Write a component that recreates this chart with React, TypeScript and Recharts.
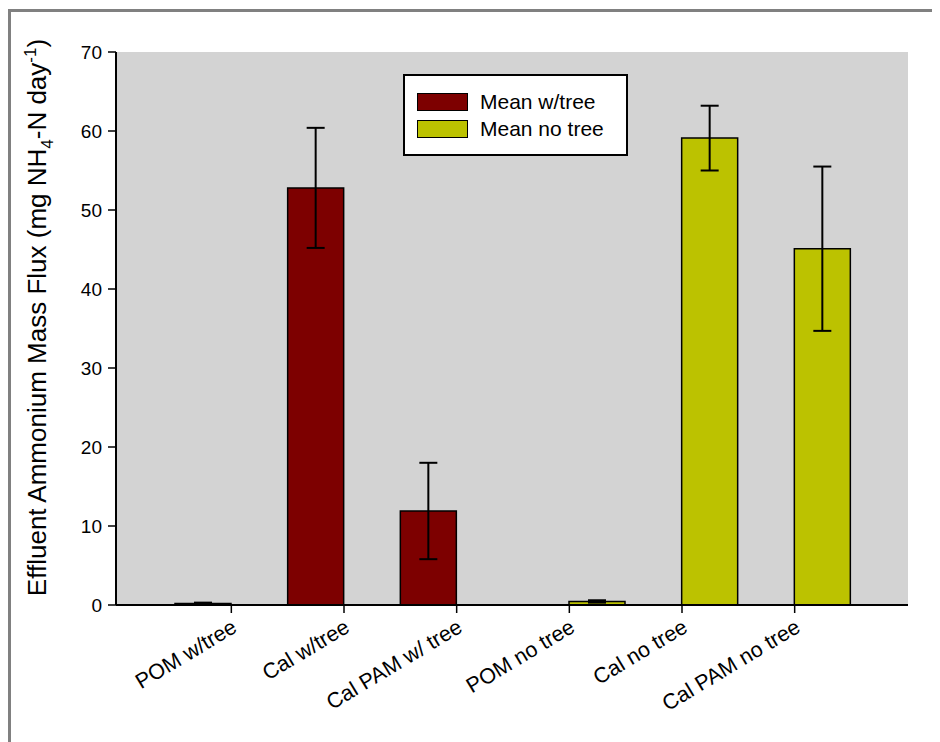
import React from 'react';
import { BarChart, Bar, XAxis, YAxis, CartesianGrid, ErrorBar } from 'recharts';

const categories = ['POM w/tree', 'Cal w/tree', 'Cal PAM w/ tree', 'POM no tree', 'Cal no tree', 'Cal PAM no tree'];
const meanWithTree: (number | null)[] = [0.2, 52.8, 11.9, null, null, null];
const errWithTree: (number | null)[] = [0.1, 7.6, 6.1, null, null, null];
const meanNoTree: (number | null)[] = [null, null, null, 0.45, 59.1, 45.1];
const errNoTree: (number | null)[] = [null, null, null, 0.15, 4.1, 10.4];
const yTicks = [0, 10, 20, 30, 40, 50, 60, 70];
const seriesNames = ['Mean w/tree', 'Mean no tree'];

const data = categories.map((name, i) => {
  const row: any = { name };
  if (meanWithTree[i] !== null) {
    row.wtree = meanWithTree[i];
    row.wtreeErr = errWithTree[i];
  }
  if (meanNoTree[i] !== null) {
    row.notree = meanNoTree[i];
    row.notreeErr = errNoTree[i];
  }
  return row;
});

const FONT = 'Arial, "Liberation Sans", Helvetica, sans-serif';
const RED = '#7d0000';
const YELLOW = '#bcc200';

const XTick = (props: any) => {
  const { x, y, payload } = props;
  return (
    <g transform={`translate(${x},${y})`}>
      <text
        x={7}
        y={16}
        textAnchor="end"
        transform="rotate(-31, 7, 16)"
        fontSize={21.5}
        fill="#000"
        fontFamily={FONT}
      >
        {payload.value}
      </text>
    </g>
  );
};

const YLabel = (props: any) => {
  const vb = props.viewBox || { x: 0, y: 0, width: 0, height: 0 };
  const cx = vb.x + 38;
  const cy = vb.y + vb.height / 2 - 11;
  return (
    <text
      x={cx}
      y={cy}
      textAnchor="middle"
      transform={`rotate(-90, ${cx}, ${cy})`}
      fontSize={26}
      fill="#000"
      fontFamily={FONT}
    >
      <tspan>Effluent Ammonium Mass Flux (mg NH</tspan>
      <tspan fontSize={17} dy={7}>4</tspan>
      <tspan dy={-7}>-N day</tspan>
      <tspan fontSize={17} dy={-10}>-1</tspan>
      <tspan dy={10}>)</tspan>
    </text>
  );
};

const LegendBox = () => {
  const colors = [RED, YELLOW];
  return (
    <div
      style={{
        position: 'absolute',
        left: 395,
        top: 66,
        width: 221,
        height: 78,
        border: '2px solid #000',
        background: '#fff',
        boxSizing: 'content-box',
        fontFamily: FONT,
        fontSize: 21,
        color: '#000',
      }}
    >
      {seriesNames.map((n, i) => (
        <div key={n} style={{ display: 'flex', alignItems: 'center', height: 27, marginTop: i === 0 ? 12 : 0, marginLeft: 12 }}>
          <div style={{ width: 49, height: 16, background: colors[i], border: '1px solid #000', marginRight: 12 }} />
          <span style={{ lineHeight: '21px' }}>{n}</span>
        </div>
      ))}
    </div>
  );
};

export default function App() {
  return (
    <div style={{ position: 'relative', width: 932, height: 734, overflow: 'hidden', background: '#fff' }}>
      <div
        style={{
          position: 'absolute',
          top: 1,
          left: 0,
          width: 1100,
          height: 1100,
          border: '3px solid #808080',
        }}
      />
      <div style={{ position: 'absolute', top: 0, left: 0 }}>
        <BarChart
          width={932}
          height={734}
          data={data}
          margin={{ top: 44, right: 32, left: 0, bottom: 57 }}
          barCategoryGap={0}
          barGap={0}
        >
          <CartesianGrid fill="#d3d3d3" stroke="none" horizontal={false} vertical={false} />
          <XAxis
            dataKey="name"
            height={80}
            padding={{ left: 59, right: 57 }}
            interval={0}
            tickSize={8}
            tickMargin={2}
            tick={<XTick />}
            axisLine={{ stroke: '#000', strokeWidth: 2 }}
            tickLine={{ stroke: '#000', strokeWidth: 1.5 }}
          />
          <XAxis
            xAxisId="top"
            orientation="top"
            dataKey="name"
            height={0}
            tick={false}
            tickLine={false}
            axisLine={{ stroke: '#000', strokeWidth: 2 }}
          />
          <YAxis
            width={108}
            domain={[0, 70]}
            ticks={yTicks}
            interval={0}
            tickSize={8}
            tickMargin={6}
            tick={{ fontSize: 19, fill: '#000', fontFamily: FONT }}
            axisLine={{ stroke: '#000', strokeWidth: 2 }}
            tickLine={{ stroke: '#000', strokeWidth: 1.5 }}
            label={<YLabel />}
          />
          <YAxis
            yAxisId="right"
            orientation="right"
            width={0}
            domain={[0, 70]}
            tick={false}
            tickLine={false}
            axisLine={{ stroke: '#000', strokeWidth: 2 }}
          />
          <Bar dataKey="wtree" name={seriesNames[0]} fill={RED} stroke="#000" strokeWidth={1.5} isAnimationActive={false}>
            <ErrorBar dataKey="wtreeErr" width={9} stroke="#000" strokeWidth={2} direction="y" />
          </Bar>
          <Bar dataKey="notree" name={seriesNames[1]} fill={YELLOW} stroke="#000" strokeWidth={1.5} isAnimationActive={false}>
            <ErrorBar dataKey="notreeErr" width={9} stroke="#000" strokeWidth={2} direction="y" />
          </Bar>
        </BarChart>
      </div>
      <LegendBox />
    </div>
  );
}
